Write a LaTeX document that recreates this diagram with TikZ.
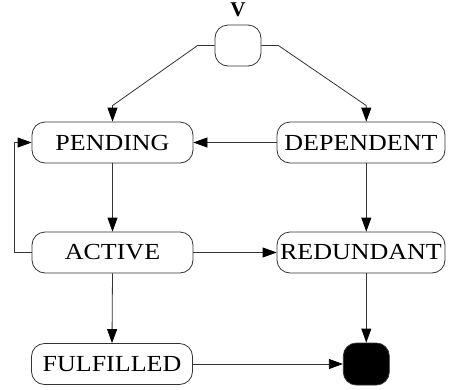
\documentclass[tikz,border=0pt]{standalone}
\usepackage{fontspec}
\setmainfont{Liberation Serif}[FakeStretch=1.13]
\newfontfamily\labelfont{Liberation Serif}
\usepackage{tikz}
\usetikzlibrary{arrows.meta, positioning, calc}

\begin{document}
\begin{tikzpicture}[x=1pt, y=-1pt,
    state/.style={draw=black!80, line width=0.8pt, rounded corners=13pt,
      minimum height=41pt, inner sep=0pt, font=\fontsize{23}{27}\selectfont},
    leftstate/.style={state, minimum width=161pt},
    rightstate/.style={state, minimum width=168pt},
    trans/.style={draw=black!80, line width=0.8pt,
      -{Triangle[length=14pt, width=10pt, color=black]}}]
    \useasboundingbox (0,0) rectangle (456,389);

    % initial and final states
    \node[state, minimum width=46pt] (init) at (238,45.5) {};
    \node[font=\labelfont\fontsize{21}{24}\selectfont\bfseries] (vlab) at (238,10) {V};
    \node[state, fill=black, minimum width=46pt, minimum height=42pt] (fin) at (366.3,364) {};

    % left column
    \node[leftstate] (pend) at (112.5,142.5) {PENDING};
    \node[leftstate] (act) at (112.5,252.5) {ACTIVE};
    \node[leftstate] (ful) at (112,364) {FULFILLED};

    % right column
    \node[rightstate] (dep) at (361,142.5) {DEPENDENT};
    \node[rightstate] (red) at (361,252.5) {REDUNDANT};

    % transitions
    \draw[trans] (init.west) -- ++(-17,0) -- ($(pend.north)+(0,-16)$) -- (pend.north);
    \draw[trans] (init.east) -- ++(17,0) -- ($(dep.north -| fin)+(0,-16)$) -- (dep.north -| fin);
    \draw[trans] (dep.west) -- (pend.east);
    \draw[trans] (pend.south) -- (act.north);
    \draw[trans] (act.west) -- ++(-17,0) |- (pend.west);
    \draw[trans] (act.east) -- (red.west);
    \draw[trans] (dep.south -| fin) -- (red.north -| fin);
    \draw[trans] (act.south) -- (ful.north);
    \draw[trans] (red.south -| fin) -- (fin.north);
    \draw[trans] (ful.east) -- (fin.west);
\end{tikzpicture}
\end{document}
